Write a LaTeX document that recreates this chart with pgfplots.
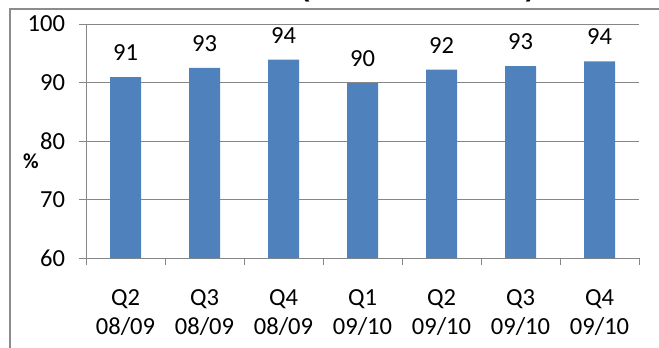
\documentclass[border=0pt]{standalone}
\usepackage{pgfplots}
\pgfplotsset{compat=1.18}
\usepackage{fontspec}
\setmainfont{Carlito}
\newfontfamily\titlefont{Liberation Sans}
\definecolor{barblue}{HTML}{4F81BD}
\definecolor{gridgray}{HTML}{868686}
\definecolor{framegray}{HTML}{8C8C8C}

\pgfplotstableread{
idx value
0 90.9
1 92.5
2 93.9
3 89.9
4 92.2
5 92.8
6 93.6
}\satisfaction

\begin{document}
\begin{tikzpicture}
% page is 659 x 347 px at 0.75pt per px
\path[use as bounding box, clip] (0,0) rectangle (494.25pt,260.25pt);
% chart title, running above the top edge of the chart area
\node[anchor=base west, inner sep=0pt, font=\titlefont\bfseries\fontsize{20pt}{24pt}\selectfont]
  at (7.5pt,262.5pt) {Customer Satisfaction (Historic measure)};
% chart frame
\draw[framegray, line width=1.5pt] (7.5pt,-20pt) -- (7.5pt,253.5pt) -- (520pt,253.5pt);
\begin{axis}[
  at={(64.5pt,66.75pt)}, anchor=south west,
  scale only axis,
  width=414.75pt, height=175.5pt,
  xmin=-0.5, xmax=6.5,
  ymin=60, ymax=100,
  ytick={60,70,80,90,100},
  xtick={0,...,6},
  xticklabels={{Q2\\08/09},{Q3\\08/09},{Q4\\08/09},{Q1\\09/10},{Q2\\09/10},{Q3\\09/10},{Q4\\09/10}},
  minor xtick={-0.5,0.5,...,6.5},
  axis x line*=bottom, axis y line*=left,
  axis line style={gridgray, line width=0.75pt, -},
  tick align=outside,
  major tick length=5.25pt,
  minor tick length=5.25pt,
  x tick style={draw=none},
  minor x tick style={draw=gridgray, line width=0.75pt},
  y tick style={draw=gridgray, line width=0.75pt},
  ymajorgrids,
  grid style={gridgray, line width=0.75pt},
  tick label style={font=\fontsize{18.4pt}{21.75pt}\selectfont},
  xticklabel style={align=center, yshift=-15pt},
  yticklabel style={xshift=-7pt},
  /pgf/number format/assume math mode=true,
  ylabel={\%},
  ylabel style={font=\bfseries\fontsize{16pt}{18pt}\selectfont, rotate=-90,
    at={(rel axis cs:0,0.5)}, anchor=center, xshift=-41.25pt, yshift=-15pt},
  nodes near coords,
  every node near coord/.append style={font=\fontsize{18.4pt}{21.75pt}\selectfont,
    anchor=center, yshift=18.4pt,
    /pgf/number format/.cd, fixed, precision=0, assume math mode=true},
  clip=false,
]
\addplot[ybar, bar width=23.25pt, fill=barblue, draw=none] table[x=idx, y=value] {\satisfaction};
\end{axis}
\end{tikzpicture}
\end{document}
